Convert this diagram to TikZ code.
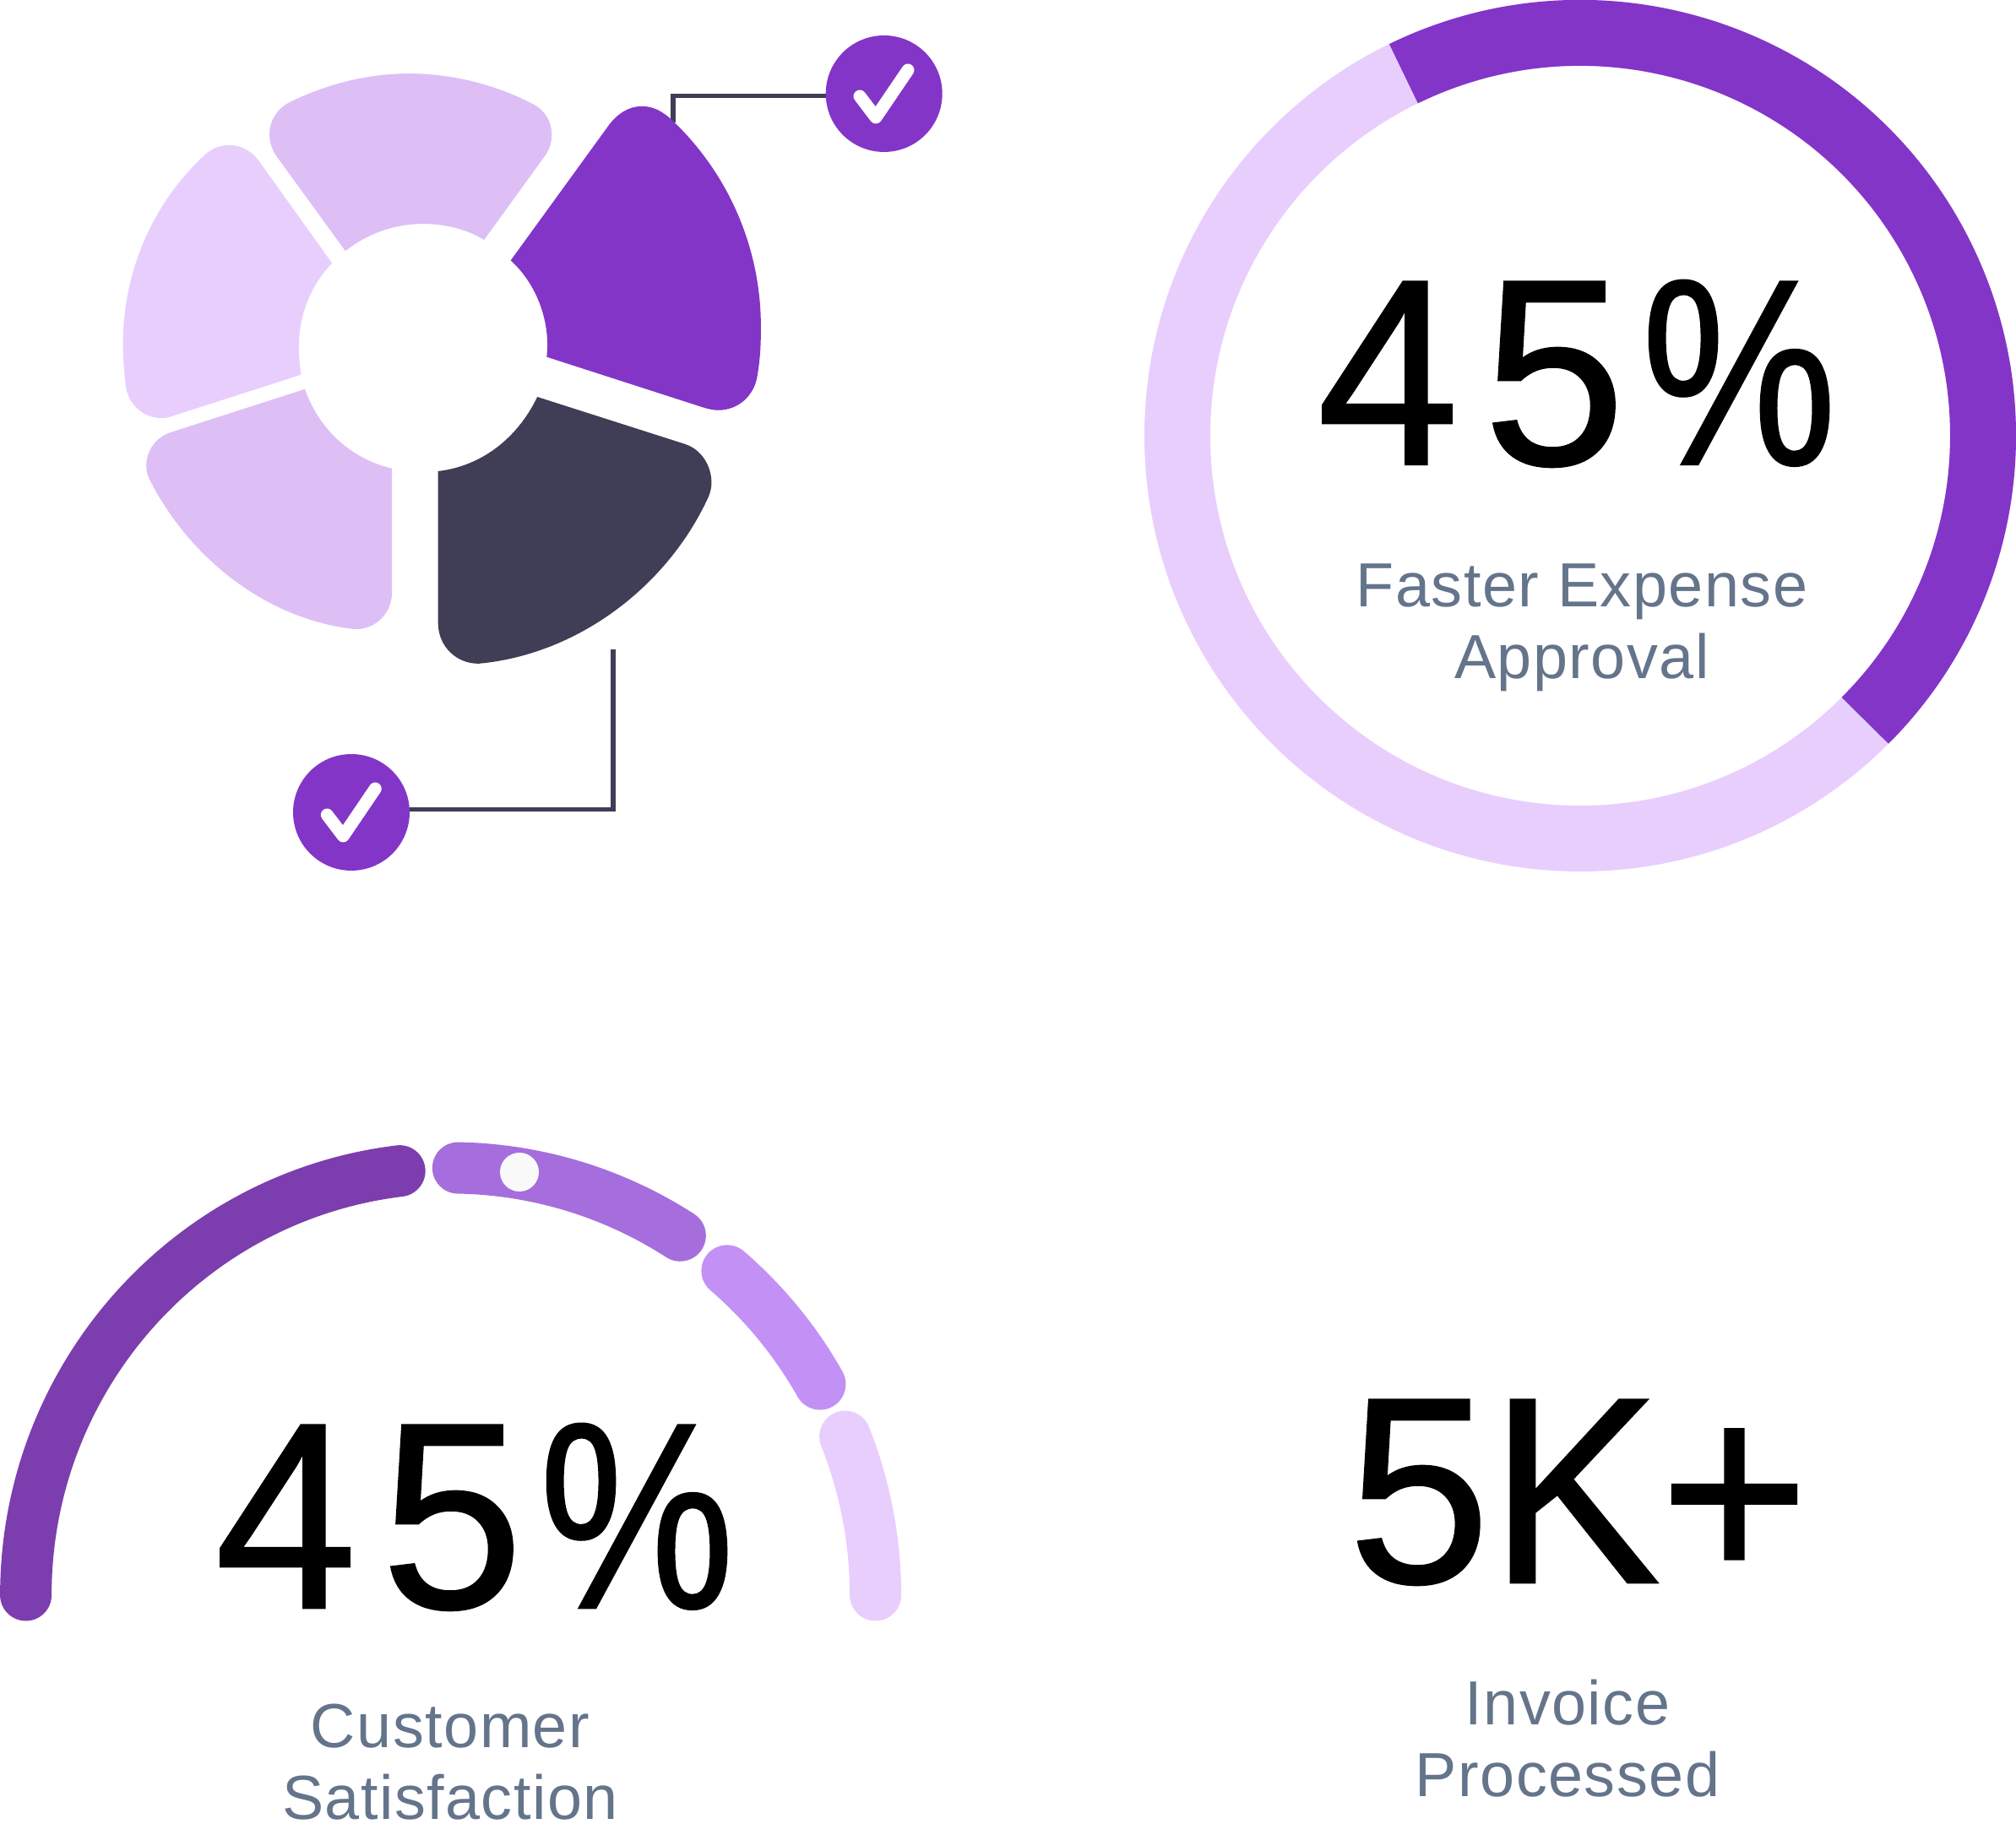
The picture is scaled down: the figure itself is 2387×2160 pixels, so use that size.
\documentclass[tikz,border=0pt]{standalone}
\usepackage{fontspec}
\setmainfont{Liberation Sans}
\newfontfamily\labelfont[LetterSpace=2]{Liberation Sans}
\newfontfamily\valuefont[FakeBold=0.8,FakeStretch=0.96]{Liberation Sans}
\usetikzlibrary{positioning}

\definecolor{cpurple}{HTML}{8335C8}
\definecolor{cink}{HTML}{403D57}
\definecolor{cpale}{HTML}{E8CEFD}
\definecolor{clilac}{HTML}{DDBFF6}
\definecolor{cgaugea}{HTML}{7C3EAE}
\definecolor{cgaugeb}{HTML}{A66EDD}
\definecolor{cgaugec}{HTML}{C391F5}
\definecolor{cslate}{HTML}{64748B}
\definecolor{cdot}{HTML}{F9F9F9}

\newcommand{\pctvalue}{4\kern16.5pt 5\kern11pt\scalebox{0.86}[1]{\%}}

\tikzstyle{big}    = [anchor=base, inner sep=0pt, outer sep=0pt, text=black, font=\fontsize{179}{179}\valuefont]
\tikzstyle{small}  = [anchor=base, inner sep=0pt, outer sep=0pt, text=cslate, align=center, font=\fontsize{42}{48.6}\labelfont]
\tikzstyle{badge}  = [circle, fill=cpurple, inner sep=0pt, outer sep=0pt, minimum size=2.76cm]
\tikzstyle{tick}   = [draw=white, line width=8.5pt, line cap=round, line join=round]
\tikzstyle{wire}   = [draw=cink, line width=2.9pt]
\tikzstyle{ring}   = [line width=44.4pt]
\tikzstyle{gauge}  = [line width=34.7pt, line cap=round]

\begin{document}
\begin{tikzpicture}[x=0.02cm, y=0.02cm]
    \useasboundingbox (0, 0) rectangle (2387, 2160);

    % check badges and their wires
    \node[badge] (checktop)    at (1046.7, 2049) {};
    \node[badge] (checkbottom) at ( 416,   1198) {};
    \coordinate (topend)    at (797, 2015);
    \coordinate (bottomend) at (726, 1391);
    \draw[wire] (checktop.182)   -| (topend);
    \draw[wire] (checkbottom.3)  -| (bottomend);
    \draw[tick] (checktop)    ++(-28.7, -3) -- ++(19, -25) -- ++(38, 56);
    \draw[tick] (checkbottom) ++(-28.7, -3) -- ++(19, -25) -- ++(38, 56);

    % petals
    \begin{scope}[shift={(120, 2130)}, x=0.013141cm, y=-0.013141cm]
      \fill[clilac] (440,407) .. controls (480,375) and (530,358) .. (580,358)
        .. controls (620,358) and (660,368) .. (690,387) -- (800,235)
        .. controls (808,224) and (812,211) .. (812,197)
        .. controls (812,173) and (799,153) .. (780,143)
        .. controls (710,106) and (630,87) .. (555,87)
        .. controls (480,87) and (405,106) .. (337,140)
        .. controls (317,151) and (303,172) .. (303,197)
        .. controls (303,211) and (308,224) .. (315,235) -- cycle;
      \fill[cpale] (416,429) .. controls (378,468) and (356,522) .. (356,580)
        .. controls (356,597) and (358,614) .. (360,630) -- (130,704)
        .. controls (123,707) and (116,708) .. (108,708)
        .. controls (75,708) and (48,683) .. (44,650)
        .. controls (41,625) and (39,600) .. (39,575)
        .. controls (39,440) and (95,320) .. (183,237)
        .. controls (195,224) and (212,216) .. (230,216)
        .. controls (252,216) and (271,227) .. (283,243) -- cycle;
      \fill[clilac] (367,656) .. controls (392,728) and (450,782) .. (524,799)
        -- (524,1022) .. controls (524,1060) and (495,1089) .. (458,1089)
        .. controls (300,1072) and (163,964) .. (90,825)
        .. controls (84,815) and (81,805) .. (81,795)
        .. controls (81,765) and (100,741) .. (128,733) -- cycle;
      \fill[cink] (786,670) .. controls (750,745) and (685,795) .. (607,804)
        -- (607,1077) .. controls (607,1120) and (640,1151) .. (680,1151)
        .. controls (855,1135) and (1014,1017) .. (1090,860)
        .. controls (1096,848) and (1100,838) .. (1100,825)
        .. controls (1100,792) and (1080,764) .. (1052,755) -- cycle;
      \fill[cpurple] (738,424) .. controls (780,462) and (804,520) .. (804,575)
        .. controls (804,583) .. (803,598) -- (1085,689)
        .. controls (1095,692) and (1103,694) .. (1112,694)
        .. controls (1148,694) and (1178,668) .. (1183,630)
        .. controls (1188,600) and (1189,575) .. (1189,550)
        .. controls (1191,407) and (1133,270) .. (1030,172)
        .. controls (1012,155) and (995,146) .. (975,146)
        .. controls (950,146) and (930,160) .. (915,180) -- cycle;
    \end{scope}

    % ring
    \coordinate (ringc) at (1871, 1644);
    \draw[ring, cpale] (ringc) circle (477);
    \draw[ring, cpurple] (ringc) ++(116:477) arc (116:-45:477);
    \node[big]   (ringvalue) at (1867, 1610) {\pctvalue};
    \node[small] (ringtext)  at (1873, 1356) {Faster Expense\\Approval};

    % gauge
    \coordinate (gaugec) at (533.6, 271);
    \draw[gauge, cgaugea] (gaugec) ++(180:503 and 506) arc (180:96.9:503 and 506);
    \draw[gauge, cgaugeb] (gaugec) ++(89:503 and 506)  arc (89:57.3:503 and 506);
    \draw[gauge, cgaugec] (gaugec) ++(49.4:503 and 506) arc (49.4:29.6:503 and 506);
    \draw[gauge, cpale]   (gaugec) ++(21.8:503 and 506) arc (21.8:0:503 and 506);
    \fill[cdot] (615, 772) circle (23);
    \node[big]   (gaugevalue) at (562, 256) {\pctvalue};
    \node[small] (gaugetext)  at (533,   5) {Customer\\Satisfaction};

    % invoices
    \node[big]   (invoicevalue) at (1869, 286) {5K+};
    \node[small] (invoicetext)  at (1856,  32) {Invoice\\Processed};
\end{tikzpicture}
\end{document}
